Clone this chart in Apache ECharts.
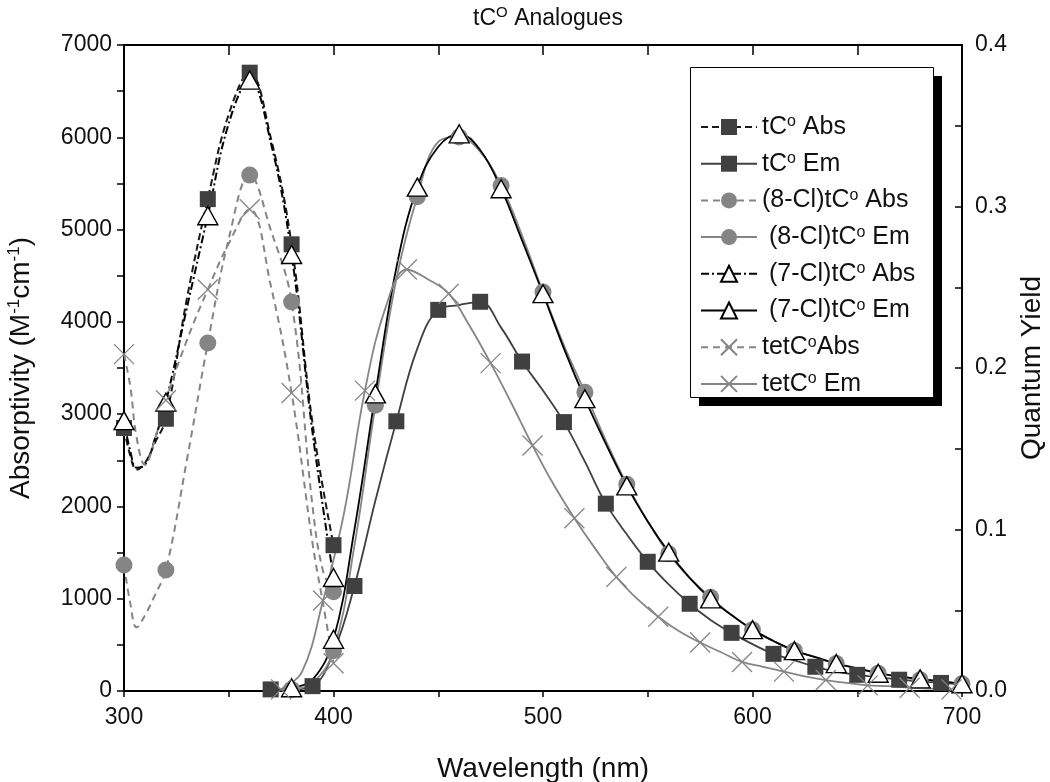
<!DOCTYPE html>
<html><head><meta charset="utf-8">
<script src="https://cdn.jsdelivr.net/npm/echarts@6/dist/echarts.min.js"></script>
<style>html,body{margin:0;padding:0;background:#fff}#c{width:1050px;height:782px}</style>
</head><body><div id="c"></div>
<script>
// ---------- DATA ----------
// Absorbance spectra (absorptivity, M^-1 cm^-1), left axis
const tcAbsNm   = [300, 303, 306, 310, 315, 320, 330, 340, 350, 360, 370, 380, 390, 400];
const tcAbsVal  = [2850, 2550, 2400, 2470, 2700, 2950, 4250, 5330, 6250, 6700, 6000, 4840, 2900, 1580];
const clAbs7Nm  = [300, 303, 306, 310, 315, 320, 330, 340, 350, 360, 370, 380, 390, 400];
const clAbs7Val = [2930, 2600, 2420, 2450, 2750, 3130, 4150, 5150, 6150, 6620, 5950, 4730, 2800, 1230];
const clAbs8Nm  = [300, 303, 306, 310, 315, 320, 330, 340, 350, 360, 370, 380, 390, 395, 400];
const clAbs8Val = [1365, 950, 690, 820, 1050, 1310, 2500, 3770, 4900, 5590, 5000, 4215, 2000, 1300, 1075];
const tetAbsNm  = [300, 303, 306, 310, 315, 320, 330, 340, 350, 360, 370, 380, 390, 395, 400];
const tetAbsVal = [3650, 3300, 2750, 2450, 2750, 3150, 3800, 4350, 4850, 5220, 4400, 3230, 1600, 950, 300];
const absMarks  = [300, 320, 340, 360, 380, 400];

// Emission spectra (quantum yield), right axis
const tcEmNm  = [370, 380, 390, 400, 410, 420, 430, 440, 450, 460, 470, 480, 490, 500, 510, 520, 530, 540, 550, 560, 570, 580, 590, 600, 610, 620, 630, 640, 650, 660, 670, 680, 690, 700];
const tcEmVal = [0.001, 0.001, 0.003, 0.024, 0.065, 0.118, 0.167, 0.212, 0.236, 0.239, 0.241, 0.225, 0.204, 0.186, 0.1665, 0.142, 0.116, 0.097, 0.080, 0.066, 0.054, 0.044, 0.036, 0.029, 0.023, 0.019, 0.015, 0.012, 0.010, 0.0085, 0.007, 0.006, 0.005, 0.004];
const tcEmMarks = [370, 390, 410, 430, 450, 470, 490, 510, 530, 550, 570, 590, 610, 630, 650, 670, 690];

const cl8EmNm  = [380, 390, 400, 410, 420, 430, 440, 450, 460, 470, 480, 490, 500, 510, 520, 530, 540, 550, 560, 570, 580, 590, 600, 610, 620, 630, 640, 650, 660, 670, 680, 690, 700];
const cl8EmVal = [0.001, 0.005, 0.025, 0.090, 0.177, 0.255, 0.306, 0.340, 0.343, 0.334, 0.313, 0.282, 0.247, 0.214, 0.185, 0.155, 0.128, 0.105, 0.085, 0.070, 0.058, 0.047, 0.038, 0.031, 0.025, 0.021, 0.017, 0.014, 0.011, 0.009, 0.007, 0.006, 0.0045];

const cl7EmNm  = [380, 390, 400, 410, 420, 430, 440, 450, 460, 470, 480, 490, 500, 510, 520, 530, 540, 550, 560, 570, 580, 590, 600, 610, 620, 630, 640, 650, 660, 670, 680, 690, 700];
const cl7EmVal = [0.002, 0.007, 0.032, 0.100, 0.184, 0.262, 0.312, 0.337, 0.345, 0.335, 0.311, 0.279, 0.246, 0.212, 0.181, 0.153, 0.127, 0.105, 0.086, 0.070, 0.057, 0.047, 0.038, 0.031, 0.025, 0.021, 0.017, 0.014, 0.011, 0.009, 0.0075, 0.006, 0.0045];
const clEmMarks = [380, 400, 420, 440, 460, 480, 500, 520, 540, 560, 580, 600, 620, 640, 660, 680, 700];

const tetEmNm  = [375, 385, 395, 405, 415, 425, 435, 445, 455, 465, 475, 485, 495, 505, 515, 525, 535, 545, 555, 565, 575, 585, 595, 605, 615, 625, 635, 645, 655, 665, 675, 685, 695];
const tetEmVal = [0.001, 0.012, 0.056, 0.110, 0.186, 0.238, 0.261, 0.255, 0.246, 0.226, 0.203, 0.178, 0.152, 0.128, 0.107, 0.088, 0.0706, 0.057, 0.046, 0.037, 0.030, 0.024, 0.018, 0.015, 0.012, 0.009, 0.0068, 0.005, 0.0035, 0.003, 0.002, 0.0015, 0.001];
const tetEmMarks = [375, 395, 415, 435, 455, 475, 495, 515, 535, 555, 575, 595, 615, 635, 655, 675, 695];

const seriesNames = ['tC° Abs', 'tC° Em', '(8-Cl)tC° Abs', ' (8-Cl)tC° Em', ' (7-Cl)tC° Abs', ' (7-Cl)tC° Em', 'tetC°Abs', 'tetC° Em'];
const xTicks = { min: 300, max: 700, interval: 100 };
const yLeft  = { min: 0, max: 7000, interval: 1000 };
const yRight = { min: 0, max: 0.4, interval: 0.1 };

// ---------- CHART ----------
const FONT = 'Liberation Sans, Arial, Helvetica, sans-serif';
const DARK = '#404040', GRAY = '#858585', BLACK = '#000';
const CROSS = 'path://M0,0L20,20M20,0L0,20';

function build(nm, vals, marks) {
  return nm.map((x, i) => {
    const d = { value: [x, vals[i]] };
    if (!marks.includes(x)) d.symbol = 'none';
    return d;
  });
}
function supText(s) { return s.replace('°', '{s|o}'); }

function mk(name, nm, vals, marks, yIdx, opt) {
  return Object.assign({
    name, type: 'line', xAxisIndex: 0, yAxisIndex: yIdx,
    data: build(nm, vals, marks), smooth: 0.4,
    showSymbol: true, animation: false
  }, opt);
}

const series = [
  mk(seriesNames[0], tcAbsNm, tcAbsVal, absMarks, 0, {
    symbol: 'rect', symbolSize: 16, itemStyle: { color: DARK },
    lineStyle: { color: '#1a1a1a', width: 2, type: [7, 4] } }),
  mk(seriesNames[1], tcEmNm, tcEmVal, tcEmMarks, 1, {
    symbol: 'rect', symbolSize: 16, itemStyle: { color: DARK },
    lineStyle: { color: DARK, width: 1.8, type: 'solid' } }),
  mk(seriesNames[2], clAbs8Nm, clAbs8Val, absMarks, 0, {
    symbol: 'circle', symbolSize: 17, itemStyle: { color: GRAY },
    lineStyle: { color: GRAY, width: 2, type: [7, 5] } }),
  mk(seriesNames[3], cl8EmNm, cl8EmVal, clEmMarks, 1, {
    symbol: 'circle', symbolSize: 17, itemStyle: { color: GRAY },
    lineStyle: { color: GRAY, width: 1.8, type: 'solid' } }),
  mk(seriesNames[4], clAbs7Nm, clAbs7Val, absMarks, 0, {
    symbol: 'triangle', symbolSize: [20, 18], itemStyle: { color: '#fff', borderColor: BLACK, borderWidth: 1.4 },
    lineStyle: { color: BLACK, width: 2, type: [8, 3, 2, 3] } }),
  mk(seriesNames[5], cl7EmNm, cl7EmVal, clEmMarks, 1, {
    symbol: 'triangle', symbolSize: [20, 18], itemStyle: { color: '#fff', borderColor: BLACK, borderWidth: 1.4 },
    lineStyle: { color: BLACK, width: 1.8, type: 'solid' } }),
  mk(seriesNames[6], tetAbsNm, tetAbsVal, absMarks, 0, {
    symbol: CROSS, symbolSize: 20, itemStyle: { color: 'none', borderColor: GRAY, borderWidth: 1.3 },
    lineStyle: { color: GRAY, width: 2, type: [7, 5] } }),
  mk(seriesNames[7], tetEmNm, tetEmVal, tetEmMarks, 1, {
    symbol: CROSS, symbolSize: 20, itemStyle: { color: 'none', borderColor: GRAY, borderWidth: 1.3 },
    lineStyle: { color: GRAY, width: 1.8, type: 'solid' } })
];

const axisLine = { show: true, onZero: false, lineStyle: { color: '#000', width: 2 } };
const labelStyle = { color: '#111', fontSize: 23, fontFamily: FONT };
const nameStyle = { fontSize: 28, color: '#111', fontFamily: FONT };
const sup = { s: { fontSize: 17, verticalAlign: 'top', color: '#111', fontFamily: FONT } };

const chart = echarts.init(document.getElementById('c'), null, { renderer: 'canvas' });
chart.setOption({
  animation: false,
  backgroundColor: '#fff',
  title: {
    text: 'tC{s|O} Analogues', left: 543, top: 0, textAlign: 'center',
    textStyle: { fontSize: 23, fontWeight: 'normal', color: '#111', fontFamily: FONT, lineHeight: 27,
      rich: { s: { fontSize: 15, verticalAlign: 'top', color: '#111', fontFamily: FONT } } }
  },
  grid: { left: 124, right: 88, top: 45, bottom: 91, containLabel: false, outerBoundsMode: 'none' },
  graphic: [
    { type: 'rect', z: 3, silent: true, shape: { x: 699, y: 76, width: 243, height: 330 }, style: { fill: '#000' } },
    { type: 'rect', z: 3, silent: true, shape: { x: 690.5, y: 67.5, width: 243, height: 330 }, style: { fill: '#fff', stroke: '#000', lineWidth: 1 } }
  ],
  legend: {
    orient: 'vertical', left: 690, top: 67, z: 5,
    padding: [47, 10, 8, 10],
    itemWidth: 56, itemHeight: 20, itemGap: 10.7,
    selectedMode: false,
    data: seriesNames,
    formatter: supText,
    textStyle: { fontSize: 25, color: '#111', fontFamily: FONT, lineHeight: 26,
      rich: { s: { fontSize: 16, verticalAlign: 'top', color: '#111', fontFamily: FONT } } }
  },
  xAxis: [
    { type: 'value', position: 'bottom', min: xTicks.min, max: xTicks.max, interval: xTicks.interval,
      name: 'Wavelength (nm)', nameLocation: 'middle', nameGap: 64, nameTextStyle: nameStyle,
      axisLine, axisTick: { show: true, inside: false, length: 6, lineStyle: { color: '#000', width: 1.5 } },
      minorTick: { show: true, splitNumber: 2, length: 6, lineStyle: { color: '#000', width: 1.5 } },
      splitLine: { show: false }, axisLabel: Object.assign({ margin: 15, formatter: v => String(v) }, labelStyle) },
    { type: 'value', position: 'top', min: xTicks.min, max: xTicks.max, interval: xTicks.interval,
      axisLine, axisTick: { show: true, inside: true, length: 10, lineStyle: { color: '#000', width: 1.5 } },
      minorTick: { show: true, splitNumber: 2, length: 10, lineStyle: { color: '#000', width: 1.5 } },
      splitLine: { show: false }, axisLabel: { show: false } }
  ],
  yAxis: [
    { type: 'value', position: 'left', min: yLeft.min, max: yLeft.max, interval: yLeft.interval,
      name: 'Absorptivity (M{s|-1}cm{s|-1})', nameLocation: 'middle', nameGap: 88, nameRotate: 90,
      nameTextStyle: Object.assign({ lineHeight: 30, rich: sup }, nameStyle),
      axisLine, axisTick: { show: true, inside: false, length: 7, lineStyle: { color: '#000', width: 1.5 } },
      minorTick: { show: true, splitNumber: 2, length: 7, lineStyle: { color: '#000', width: 1.5 } },
      splitLine: { show: false }, axisLabel: Object.assign({ margin: 12, formatter: v => String(v) }, labelStyle) },
    { type: 'value', position: 'right', min: yRight.min, max: yRight.max, interval: yRight.interval,
      name: 'Quantum Yield', nameLocation: 'middle', nameGap: 55, nameRotate: 90, nameTextStyle: nameStyle,
      axisLine, axisTick: { show: true, inside: true, length: 7, lineStyle: { color: '#000', width: 1.5 } },
      minorTick: { show: true, splitNumber: 2, length: 7, lineStyle: { color: '#000', width: 1.5 } },
      splitLine: { show: false },
      axisLabel: Object.assign({ margin: 13, formatter: v => v.toFixed(1) }, labelStyle) }
  ],
  series
});
</script>
</body></html>
